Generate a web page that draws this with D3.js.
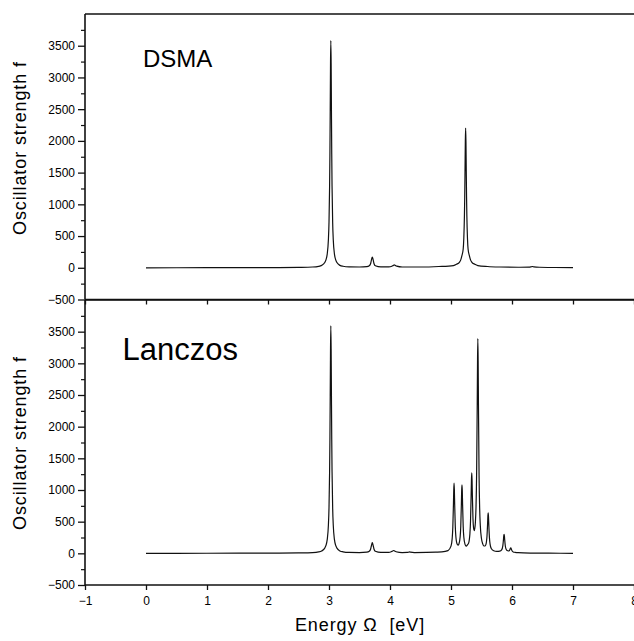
<!DOCTYPE html>
<html>
<head>
<meta charset="utf-8">
<script src="https://cdn.jsdelivr.net/npm/d3@7/dist/d3.min.js"></script>
<style>
  html, body { margin: 0; padding: 0; background: #fff; }
  svg { display: block; }
  text { font-family: "Liberation Sans", Arial, Helvetica, sans-serif; fill: #000; }
</style>
</head>
<body>
<svg id="chart" width="634" height="641"></svg>
<script>
// ---- data ----
const xTicks = [-1, 0, 1, 2, 3, 4, 5, 6, 7, 8];
const yTicks = [-500, 0, 500, 1000, 1500, 2000, 2500, 3000, 3500];
const yMinorTicks = [-250, 250, 750, 1250, 1750, 2250, 2750, 3250, 3750];
const panelLabels = ["DSMA", "Lanczos"];
const xAxisTitle = "Energy \u03A9  [eV]";
const yAxisTitle = "Oscillator strength f";

// DSMA spectrum: [energy (eV), oscillator strength]
const dsmaSpectrum = [
  [0,0],[1,1],[2,3],[2.5,7],[2.73,12],[2.83,22],[2.88,38],[2.93,82],[2.95,125],[2.97,212],
  [2.99,442],[3.00,718],[3.01,1290],[3.015,1790],[3.02,2478],[3.025,3222],[3.03,3580],
  [3.035,3222],[3.04,2478],[3.045,1790],[3.05,1290],[3.06,718],[3.07,442],[3.09,212],
  [3.11,125],[3.13,82],[3.18,38],[3.23,24],[3.33,14],[3.5,12],[3.62,18],[3.66,32],[3.68,60],
  [3.695,120],[3.71,170],[3.725,120],[3.74,60],[3.76,32],[3.85,14],[3.98,14],[4.03,25],
  [4.055,38],[4.07,45],[4.085,38],[4.11,25],[4.2,12],[4.5,12],[4.8,20],[5.04,35],[5.09,55],
  [5.14,90],[5.16,125],[5.18,195],[5.20,295],[5.21,465],[5.22,815],[5.225,1115],[5.23,1535],
  [5.235,1995],[5.24,2200],[5.245,1995],[5.25,1535],[5.255,1115],[5.26,815],[5.27,465],
  [5.28,295],[5.30,195],[5.32,125],[5.34,90],[5.39,55],[5.44,35],[5.6,20],[5.8,12],[6.1,8],
  [6.28,9],[6.32,16],[6.34,20],[6.36,14],[6.45,8],[6.7,4],[7.0,2]
];

// Lanczos spectrum: [energy (eV), oscillator strength]
const lanczosSpectrum = [
  [0,0],[1,1],[2,3],[2.5,7],[2.73,12],[2.83,22],[2.88,38],[2.93,82],[2.95,125],[2.97,212],
  [2.99,442],[3.00,720],[3.01,1295],[3.015,1795],[3.02,2485],[3.025,3230],[3.03,3590],
  [3.035,3230],[3.04,2485],[3.045,1795],[3.05,1295],[3.06,720],[3.07,442],[3.09,212],
  [3.11,125],[3.13,82],[3.18,38],[3.23,24],[3.33,14],[3.5,12],[3.62,18],[3.66,32],[3.68,60],
  [3.695,120],[3.71,170],[3.725,120],[3.74,60],[3.76,32],[3.85,14],[3.98,14],[4.02,25],
  [4.045,38],[4.06,45],[4.075,38],[4.10,25],[4.2,12],[4.28,14],[4.31,20],[4.32,22],[4.335,18],
  [4.4,12],[4.6,14],[4.75,18],[4.85,22],[4.95,43],[5.00,113],[5.02,240],[5.03,415],[5.04,770],
  [5.045,995],[5.05,1110],[5.055,1010],[5.06,785],[5.07,430],[5.08,261],[5.10,147],[5.115,130],
  [5.13,148],[5.15,260],[5.16,424],[5.17,774],[5.175,992],[5.18,1080],[5.185,990],[5.19,772],
  [5.20,425],[5.21,258],[5.23,142],[5.25,114],[5.27,135],[5.29,165],[5.30,215],[5.31,310],
  [5.32,505],[5.33,905],[5.335,1150],[5.34,1270],[5.345,1165],[5.35,925],[5.36,555],[5.37,400],
  [5.38,358],[5.39,393],[5.40,493],[5.41,732],[5.42,1255],[5.43,2355],[5.435,3040],[5.44,3390],
  [5.445,3045],[5.45,2350],[5.46,1240],[5.47,705],[5.48,447],[5.50,230],[5.52,150],[5.54,116],
  [5.56,116],[5.57,133],[5.58,175],[5.59,270],[5.60,470],[5.605,595],[5.61,640],[5.615,570],
  [5.62,447],[5.63,248],[5.64,150],[5.66,77],[5.70,40],[5.75,30],[5.80,34],[5.83,54],[5.85,122],
  [5.86,218],[5.865,278],[5.87,300],[5.875,277],[5.88,218],[5.89,120],[5.90,75],[5.92,43],
  [5.94,37],[5.96,48],[5.97,70],[5.98,85],[5.99,64],[6.00,40],[6.02,22],[6.05,16],[6.1,10],
  [6.3,4],[6.6,2],[7.0,0]
];

// ---- layout ----
const svg = d3.select("#chart");
const left = 85, right = 634;
const panels = [
  { top: 14, bottom: 299.5, data: dsmaSpectrum, label: panelLabels[0],
    labelX: 143, labelY: 67, labelSize: 24, titleY: 148, showXLabels: false },
  { top: 300, bottom: 585, data: lanczosSpectrum, label: panelLabels[1],
    labelX: 122.5, labelY: 360, labelSize: 31, titleY: 443, showXLabels: true }
];

const x = d3.scaleLinear().domain([-1, 8]).range([left, right]);

panels.forEach(p => {
  const y = d3.scaleLinear().domain([-500, 4000]).range([p.bottom, p.top]);
  const g = svg.append("g");

  // spectrum line
  const line = d3.line()
    .x(d => x(d[0]))
    .y(d => y(d[1]))
    .curve(d3.curveMonotoneX);
  g.append("path")
    .datum(p.data)
    .attr("fill", "none")
    .attr("stroke", "#111")
    .attr("stroke-width", 1.2)
    .attr("d", line);

  // y axis major
  const yAxis = d3.axisLeft(y).tickValues(yTicks).tickSize(7).tickSizeOuter(0).tickPadding(3)
    .tickFormat(d3.format("d"));
  const ya = g.append("g").attr("transform", `translate(${left},0)`).call(yAxis);
  ya.select(".domain").remove();
  ya.selectAll(".tick line").attr("stroke", "#111").attr("stroke-width", 1.3);
  ya.selectAll(".tick text").style("font-size", "12px").attr("fill", "#000");

  // y axis minor
  const yAxisMinor = d3.axisLeft(y).tickValues(yMinorTicks).tickSize(4).tickSizeOuter(0).tickFormat("");
  const ym = g.append("g").attr("transform", `translate(${left},0)`).call(yAxisMinor);
  ym.select(".domain").remove();
  ym.selectAll(".tick line").attr("stroke", "#111").attr("stroke-width", 1.2);

  // x axis at bottom of panel
  const xAxis = d3.axisBottom(x).tickValues(xTicks).tickSize(5).tickSizeOuter(0).tickPadding(6)
    .tickFormat(p.showXLabels ? d3.format("d") : "");
  const xa = g.append("g").attr("transform", `translate(0,${p.bottom})`).call(xAxis);
  xa.select(".domain").remove();
  xa.selectAll(".tick line").attr("stroke", "#111").attr("stroke-width", 1.3);
  xa.selectAll(".tick text").style("font-size", "12px").attr("fill", "#000");

  // frame lines
  g.append("line").attr("x1", left).attr("x2", right).attr("y1", p.bottom).attr("y2", p.bottom)
    .attr("stroke", "#111").attr("stroke-width", 1.6);
  g.append("line").attr("x1", left).attr("x2", right).attr("y1", p.top).attr("y2", p.top)
    .attr("stroke", "#111").attr("stroke-width", 1.6);
  g.append("line").attr("x1", left).attr("x2", left).attr("y1", p.top).attr("y2", p.bottom)
    .attr("stroke", "#111").attr("stroke-width", 1.6);

  // panel label
  g.append("text").attr("x", p.labelX).attr("y", p.labelY)
    .style("font-size", p.labelSize + "px").text(p.label);

  // y title
  g.append("text")
    .attr("transform", `translate(26,${p.titleY}) rotate(-90)`)
    .attr("text-anchor", "middle")
    .style("font-size", "18px")
    .style("letter-spacing", "0.9px")
    .text(yAxisTitle);
});

// x title
svg.append("text")
  .attr("x", 360).attr("y", 630.5)
  .attr("text-anchor", "middle")
  .style("font-size", "18px")
  .style("letter-spacing", "0.9px")
  .style("white-space", "pre")
  .text(xAxisTitle);
</script>
</body>
</html>
